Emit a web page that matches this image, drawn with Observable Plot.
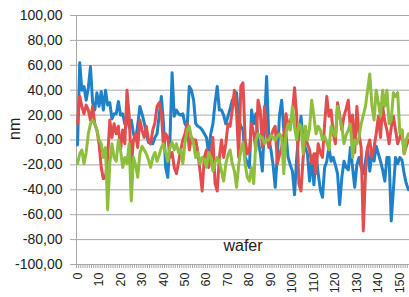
<!DOCTYPE html>
<html><head><meta charset="utf-8">
<script src="https://cdn.jsdelivr.net/npm/d3@7"></script>
<script src="https://cdn.jsdelivr.net/npm/@observablehq/plot@0.6"></script>
<style>html,body{margin:0;padding:0;background:#fff;overflow:hidden;}</style>
</head><body><div id="chart"></div>
<script>
const blueValues = [-4,62,40,43,32,42,59,30,24,38,27,39,24,40,28,30,17,21,21,31,20,21,13,20,10,16,5,0,12,27,21,14,5,-2,-3,-3,2,5,20,35,13,-22,-30,0,54,19,24,21,20,21,13,10,43,40,32,13,11,10,8,5,2,-11,5,13,30,43,24,24,20,13,19,25,32,35,38,16,11,8,-14,-18,-22,24,13,21,0,-10,-25,13,51,2,-8,-20,-38,-12,20,32,8,5,-14,-20,-25,-44,-14,5,19,0,-6,-11,-33,-14,-36,-11,-27,-40,-46,-22,-17,-6,-17,-14,-20,-27,-52,-30,-17,-22,-24,-6,-22,-38,-20,-14,-22,-27,-17,-6,-25,-11,-17,-5,-11,-17,-24,-33,-14,-14,-65,-40,-14,-19,-14,-16,-27,-35,-40];
const redValues = [13,35,27,21,28,24,16,27,13,8,-3,-22,-31,-30,-14,16,2,13,5,11,-8,8,-3,40,20,-22,0,5,-6,16,8,2,11,0,-3,8,14,27,30,22,-6,5,2,-14,-10,-22,-27,-18,-8,0,5,13,-8,2,0,0,-10,-25,-41,-14,-8,-22,-14,2,-35,-41,-14,0,-14,-3,13,11,24,40,22,-14,43,46,0,-11,-8,13,5,-8,32,24,-6,27,5,-6,2,8,11,-19,-12,-6,5,21,11,15,21,42,19,-35,-41,-14,2,-3,-8,-19,-11,-27,-3,-10,-14,13,35,19,24,5,-3,30,20,8,19,25,32,8,20,-10,27,5,-6,-73,-27,-6,0,-14,-6,5,19,2,27,15,8,-3,10,19,8,-3,2,8,-11,-5,0];
const greenValues = [-19,-11,-8,-19,-10,5,13,16,13,8,0,-3,-14,-6,-56,-19,-3,-14,-17,0,-8,-22,-14,-19,-3,-49,-14,-20,-30,-11,-5,-8,-11,-16,-22,-14,-10,-17,-12,-6,-3,-10,-17,-6,-2,-8,-3,-10,-8,-19,-2,8,11,2,-3,-14,-10,-19,-14,-16,-22,-10,-14,-25,-18,-14,-17,-25,-33,-19,-12,-8,-19,-25,-38,-20,-8,-2,-19,-30,-33,-22,-35,0,5,3,2,-3,0,0,4,2,0,3,5,2,-27,5,13,8,27,10,0,13,11,-11,11,0,10,32,19,5,11,8,0,3,-2,-8,11,6,3,27,18,11,-3,4,8,13,-14,0,-3,2,13,20,27,40,53,28,16,40,30,19,40,27,40,13,16,38,35,38,5,8,-11,0,5];
const seriesNames = ["Series 1", "Series 2", "Series 3"];
const seriesColors = ["#1f82c8", "#e24e4e", "#8dbf3c"];
const yTicks = [-100, -80, -60, -40, -20, 0, 20, 40, 60, 80, 100];
const xTickLabels = [0, 10, 20, 30, 40, 50, 60, 70, 80, 90, 100, 110, 120, 130, 140, 150];
const xTitle = "wafer";
const yTitle = "nm";

const n = blueValues.length;
const rows = [];
[blueValues, redValues, greenValues].forEach((vals, s) =>
  vals.forEach((v, i) => rows.push({wafer: i, nm: v, series: seriesNames[s]})));
const boundaries = d3.range(n + 1).map(i => i - 0.5);
const fmt = d => d.toFixed(2).replace(".", ",");
const gray = "#a8a8a8";

const chart = Plot.plot({
  width: 409, height: 297,
  marginLeft: 76, marginRight: 0, marginTop: 15, marginBottom: 33,
  x: {domain: [-0.5, n - 0.5], axis: null},
  y: {domain: [-100, 100], axis: null},
  color: {type: "ordinal", domain: seriesNames, range: seriesColors},
  style: {fontFamily: "'Liberation Sans', Arial, sans-serif", background: "#fff", color: "#222"},
  marks: [
    Plot.gridY(yTicks, {stroke: gray, strokeOpacity: 1}),
    Plot.ruleX([-0.5], {stroke: gray}),
    Plot.axisY(yTicks, {tickSize: 6, tickPadding: 8, tickFormat: fmt, fontSize: 14, stroke: gray, label: null}),
    Plot.axisX(boundaries, {tickSize: 4, tickFormat: () => "", stroke: gray, label: null}),
    Plot.axisX(xTickLabels, {tickSize: 0, tickPadding: 8, tickRotate: -90, fontSize: 12.5, label: null}),
    Plot.lineY(rows, {x: "wafer", y: "nm", stroke: "series", z: "series", strokeWidth: 3, clip: true}),
    Plot.text([xTitle], {frameAnchor: "bottom", dy: -14, fontSize: 16}),
    Plot.text([yTitle], {frameAnchor: "left", dx: -62, rotate: -90, fontSize: 16})
  ]
});
document.getElementById("chart").appendChild(chart);
</script>
</body></html>
